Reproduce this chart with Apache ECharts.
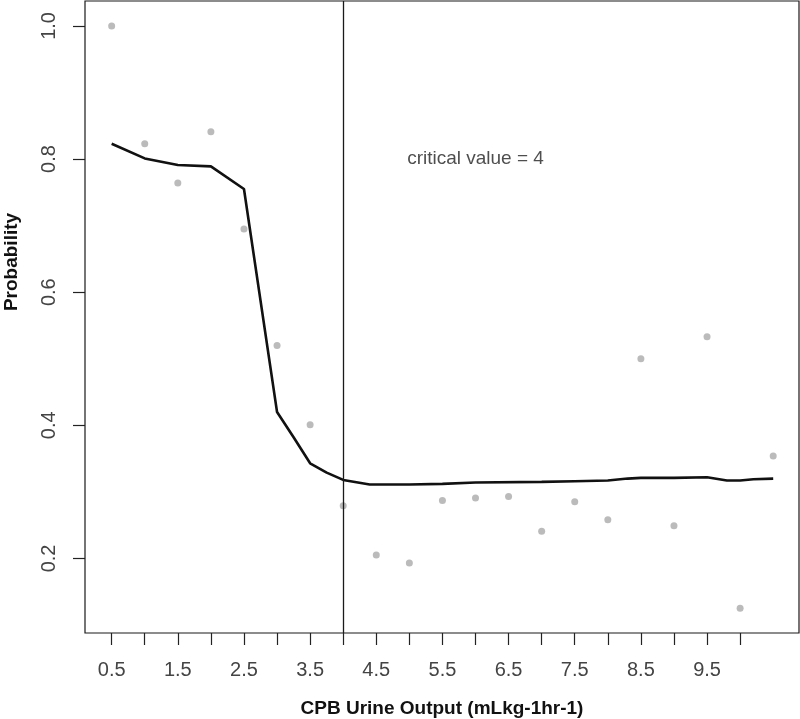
<!DOCTYPE html>
<html>
<head>
<meta charset="utf-8">
<script src="https://cdn.jsdelivr.net/npm/echarts@6/dist/echarts.min.js"></script>
<style>
html,body{margin:0;padding:0;background:#fff;}
#chart{width:800px;height:719px;}
</style>
</head>
<body>
<div id="chart"></div>
<script>
// Observed points (gray dots)
var pointX = [0.5, 1.0, 1.5, 2.0, 2.5, 3.0, 3.5, 4.0, 4.5, 5.0, 5.5, 6.0, 6.5, 7.0, 7.5, 8.0, 8.5, 9.0, 9.5, 10.0, 10.5];
var pointY = [1.0, 0.823, 0.764, 0.841, 0.695, 0.520, 0.401, 0.279, 0.205, 0.193, 0.287, 0.291, 0.293, 0.241, 0.285, 0.258, 0.500, 0.249, 0.533, 0.125, 0.354];
// Smoothed probability curve
var curveX = [0.5, 1.0, 1.5, 2.0, 2.5, 3.0, 3.25, 3.5, 3.75, 4.0, 4.4, 5.0, 5.5, 6.0, 7.0, 7.5, 8.0, 8.3, 8.5, 9.0, 9.5, 9.8, 10.0, 10.2, 10.5];
var curveY = [0.823, 0.801, 0.791, 0.789, 0.755, 0.420, 0.382, 0.343, 0.329, 0.318, 0.311, 0.311, 0.312, 0.314, 0.315, 0.316, 0.317, 0.320, 0.321, 0.321, 0.322, 0.317, 0.317, 0.319, 0.320];
// Critical value
var criticalValue = [4];
var annotationPos = [6, 0.8];
var annotationText = "critical value = 4";
// Axes
var xTicks = [0.5, 1.0, 1.5, 2.0, 2.5, 3.0, 3.5, 4.0, 4.5, 5.0, 5.5, 6.0, 6.5, 7.0, 7.5, 8.0, 8.5, 9.0, 9.5, 10.0];
var xTickLabels = [0.5, 1.5, 2.5, 3.5, 4.5, 5.5, 6.5, 7.5, 8.5, 9.5];
var yTicks = [0.2, 0.4, 0.6, 0.8, 1.0];
var xTitle = "CPB Urine Output (mLkg-1hr-1)";
var yTitle = "Probability";

var FONT = '"Liberation Sans", Arial, sans-serif';
var chart = echarts.init(document.getElementById('chart'), null, {renderer: 'canvas'});

var points = pointX.map(function (x, i) { return [x, pointY[i]]; });
var curve = curveX.map(function (x, i) { return [x, curveY[i]]; });

chart.setOption({
  animation: false,
  backgroundColor: '#fff',
  grid: {left: 85, right: 1, top: 1, bottom: 86, show: true, borderColor: '#1a1a1a', borderWidth: 1.2,
    backgroundColor: 'transparent', outerBoundsMode: 'none', containLabel: false},
  xAxis: {
    type: 'value', min: 0.097, max: 10.89,
    name: xTitle, nameLocation: 'middle', nameGap: 66,
    nameTextStyle: {fontFamily: FONT, fontSize: 19, fontWeight: 'bold', color: '#111'},
    axisLine: {show: false},
    axisTick: {show: true, length: 12, customValues: xTicks, lineStyle: {color: '#222', width: 1.2}},
    axisLabel: {show: true, customValues: xTickLabels, margin: 27, fontFamily: FONT, fontSize: 20, color: '#444',
      formatter: function (v) { return Number(v).toFixed(1); }},
    splitLine: {show: false}
  },
  yAxis: {
    type: 'value', min: 0.088, max: 1.0375,
    axisLine: {show: false},
    axisTick: {show: true, length: 12, customValues: yTicks, lineStyle: {color: '#222', width: 1.2}},
    axisLabel: {show: true, customValues: yTicks, rotate: 90, align: 'center', verticalAlign: 'bottom', margin: 26,
      fontFamily: FONT, fontSize: 20, color: '#444',
      formatter: function (v) { return Number(v).toFixed(1); }},
    splitLine: {show: false}
  },
  graphic: [{
    type: 'text', x: 12, y: 262, rotation: Math.PI / 2,
    style: {text: yTitle, fontFamily: FONT, fontSize: 19, fontWeight: 'bold', fill: '#111', textAlign: 'center', textVerticalAlign: 'middle'}
  }],
  series: [
    {
      type: 'scatter', data: points, symbol: 'circle', symbolSize: 7,
      itemStyle: {color: '#aaaaaa'}, z: 2
    },
    {
      type: 'line', data: curve, showSymbol: false, symbol: 'none',
      lineStyle: {color: '#111', width: 2.6}, z: 3,
      markLine: {
        silent: true, symbol: ['none', 'none'], label: {show: false},
        lineStyle: {color: '#1a1a1a', width: 1.3, type: 'solid'},
        data: criticalValue.map(function (v) { return {xAxis: v}; })
      }
    },
    {
      type: 'scatter', data: [annotationPos], symbolSize: 0,
      label: {show: true, position: 'inside', formatter: annotationText,
        fontFamily: FONT, fontSize: 19, color: '#222'}
    }
  ]
});
</script>
</body>
</html>
